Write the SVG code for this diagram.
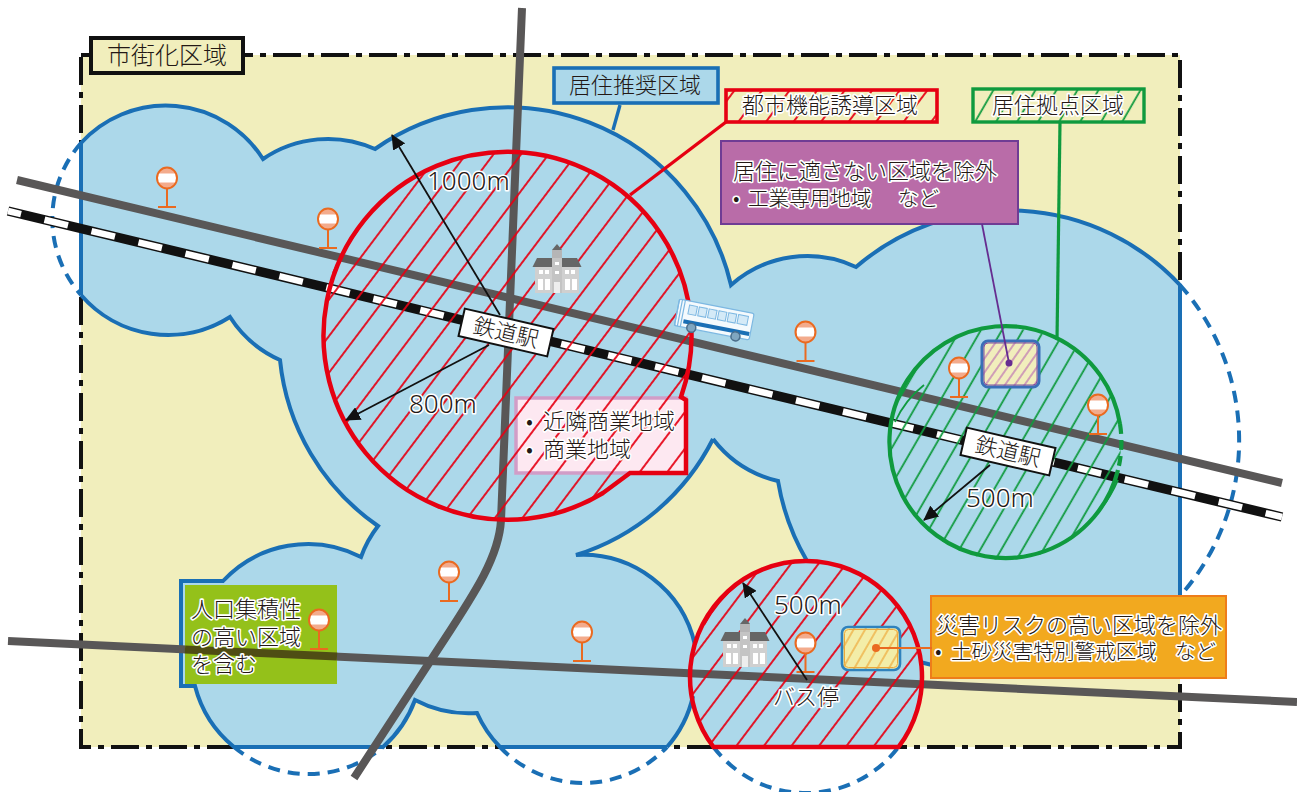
<svg xmlns="http://www.w3.org/2000/svg" width="1297" height="792" viewBox="0 0 1297 792">
<style>
text{font-family:"Noto Sans CJK JP","Noto Sans",sans-serif;font-size:22px;font-weight:300;fill:#231815}
.h{stroke:#fff;stroke-width:3.2px;stroke-linejoin:round;paint-order:stroke}
.m{font-family:"Noto Sans","Noto Sans CJK JP",sans-serif;font-size:26px}
.s{font-size:20.6px}
.road{fill:none;stroke:#595757;stroke-width:8}
.blue{stroke:#1a6fb5;stroke-width:4;fill:none}
.dash{stroke-dasharray:12 8}
.arrow{stroke:#111;stroke-width:1.8;fill:none;marker-end:url(#ah)}
.thin-r{fill:none;stroke:#e60012;stroke-width:1.8}
.thin-g{fill:none;stroke:#0f9a3e;stroke-width:1.8}
</style>
<defs>
<marker id="ah" markerUnits="userSpaceOnUse" markerWidth="16" markerHeight="14" refX="14" refY="7" orient="auto"><path d="M0,0L15,7L0,14Z" fill="#111"/></marker>
<pattern id="hr" width="22" height="22" patternUnits="userSpaceOnUse" patternTransform="rotate(-53)"><line x1="0" y1="3" x2="22" y2="3" stroke="#e60012" stroke-width="1.800"/></pattern>
<pattern id="hg" width="18.200" height="18.200" patternUnits="userSpaceOnUse" patternTransform="rotate(-60)"><line x1="0" y1="13.600" x2="18.200" y2="13.600" stroke="#0f9a3e" stroke-width="1.800"/></pattern>
<pattern id="hp" width="8" height="8" patternUnits="userSpaceOnUse" patternTransform="rotate(-55)"><line x1="0" y1="4" x2="8" y2="4" stroke="#c583b4" stroke-width="1.500"/></pattern>
<pattern id="ho" width="10" height="10" patternUnits="userSpaceOnUse" patternTransform="rotate(-60)"><line x1="0" y1="4" x2="10" y2="4" stroke="#eea83a" stroke-width="1.300"/></pattern>
<g id="stop">
<ellipse cx="0" cy="0" rx="10" ry="10.500" fill="#f3ab8c"/>
<rect x="-9" y="-4.500" width="18" height="9" fill="#fff"/>
<ellipse cx="0" cy="0" rx="10" ry="10.500" fill="none" stroke="#ea6a20" stroke-width="2"/>
<path d="M0,10.500V29M-9,29H9" fill="none" stroke="#ea6a20" stroke-width="2"/>
</g>
<g id="school">
<path d="M0,0L5,6H-5Z" fill="#666"/>
<path d="M-5,6H5V14H-5Z" fill="#b5b5b6"/>
<path d="M-20,14H20L24.500,23H-24.500Z" fill="#666"/>
<rect x="-22" y="23" width="44" height="26" fill="#d0d0d0"/>
<rect x="-5" y="14" width="10" height="35" fill="#c4c4c4"/>
<rect x="-3" y="38" width="6" height="11" fill="#eee"/>
<path d="M-18,26h4v4h-4zM-12,26h4v4h-4zM8,26h4v4h-4zM14,26h4v4h-4zM-19,35h5v11h-5zM-12,35h5v11h-5zM8,35h5v11h-5zM15,35h5v11h-5zM-2,18h4v3h-4zM-2,27h4v3h-4z" fill="#fff"/>
</g>
</defs>

<g id="urbanization-area">
<rect x="81" y="55" width="1099" height="692" fill="#f1eebc"/>
<rect x="81" y="55" width="1099" height="692" fill="none" stroke="#111" stroke-width="4" stroke-dasharray="28 7 6 7"/>
</g>

<g id="residential-area">
<path fill="#acd8ea" fill-rule="evenodd" d="M81,143A115,115 0 0 1 263,159A115,115 0 0 1 375,149A230,230 0 0 1 731,285A115,115 0 0 1 856,267A234,234 0 0 1 1180,285L1180,596A234,234 0 0 1 920,662A116,116 0 0 1 898.500,747L713.500,747A116,116 0 0 1 693,696A115,115 0 0 1 667,747L500,747A115,115 0 0 1 477,713A115,115 0 0 1 415,700A116,116 0 0 1 383,747L234,747A116,116 0 0 1 195,686L181,686L181,581L223,581A116,116 0 0 1 361,557A112,112 0 0 1 378,526A230,230 0 0 1 280,360A115,115 0 0 1 230,317A115,115 0 0 1 81,295ZM713,439A115,115 0 0 0 778,481A234,234 0 0 0 807,561A116,116 0 0 0 695,645A115,115 0 0 0 576,555A230,230 0 0 0 713,439Z"/>
<path class="blue" d="M81,295V143A115,115 0 0 1 263,159A115,115 0 0 1 375,149A230,230 0 0 1 731,285A115,115 0 0 1 856,267A234,234 0 0 1 1180,285L1180,596"/>
<path class="blue" d="M932,665A234,234 0 0 1 920,662"/>
<path class="blue" d="M667,747L500,747A115,115 0 0 1 477,713A115,115 0 0 1 415,700A116,116 0 0 1 383,747L234,747A116,116 0 0 1 195,686L181,686L181,581L223,581A116,116 0 0 1 361,557A112,112 0 0 1 378,526A230,230 0 0 1 280,360A115,115 0 0 1 230,317A115,115 0 0 1 81,295"/>
<path class="blue" d="M667,747A115,115 0 0 0 693,696"/>
<path class="blue" d="M713,439A115,115 0 0 0 778,481A234,234 0 0 0 807,561M695,645A115,115 0 0 0 576,555A230,230 0 0 0 713,439"/>
<path class="blue dash" d="M81,143A115,115 0 0 0 81,295M234,747A116,116 0 0 0 383,747M500,747A115,115 0 0 0 667,747M713.500,747A116,116 0 0 0 898.500,747M1180,285A234,234 0 0 1 1180,596"/>
</g>

<g id="connectors">
<path class="road" d="M17,180L1282,483"/>
<path class="road" d="M522,8L501,520C499,560 470,600 431,660L354,778"/>
<path class="road" d="M8,641L1297,702"/>
<path d="M8,211L1282,517" fill="none" stroke="#111" stroke-width="9.500"/>
<path d="M8,211L1282,517" fill="none" stroke="#fff" stroke-width="6.500" stroke-dasharray="24.150 24.150" stroke-dashoffset="10.750"/>
<path d="M726,122L630,195" fill="none" stroke="#e60012" stroke-width="3.400"/>
<path d="M620,105L613,130" fill="none" stroke="#1a6fb5" stroke-width="3.400"/>
<path d="M1060,122L1057,340" fill="none" stroke="#0f9a3e" stroke-width="3.200"/>
</g>

<g id="city-function-area-a">
<rect x="516" y="398" width="170" height="75" fill="#fde8f1" stroke="#d19dc7" stroke-width="3.500"/>
<path fill="url(#hr)" d="M323,336A184,184 0 1 1 691,336A184,184 0 1 1 323,336ZM516,398H686V473H516Z"/>
<path class="thin-r" d="M333,273Q352,232 380,203"/>
<path fill="none" stroke="#e60012" stroke-width="4.500" d="M630,473L603,493A184,184 0 1 1 681,397L686,400V473Z"/>
</g>

<g id="city-function-area-b">
<path fill="url(#hr)" d="M713.500,747A116,116 0 1 1 898.500,747Z"/>
<path class="thin-r" d="M704,625Q718,600 739,583"/>
<path fill="none" stroke="#e60012" stroke-width="4.500" d="M713.500,747A116,116 0 1 1 898.500,747Z"/>
</g>

<g id="residential-hub-area">
<circle cx="1005" cy="444" r="116" fill="url(#hg)"/>
<path class="thin-g" d="M895,422Q905,400 924,385M1118,480Q1108,504 1089,522"/>
<path fill="none" stroke="#0f9a3e" stroke-width="4.200" d="M1118,470A116,116 0 1 1 1120,424"/>
<path fill="none" stroke="#0f9a3e" stroke-width="4.200" stroke-dasharray="10 6" d="M1120,424A116,116 0 0 1 1118,470"/>
</g>

<g id="excluded-industrial">
<rect x="982" y="341" width="57" height="46" rx="6" fill="#f1eebc"/>
<rect x="982" y="341" width="57" height="46" rx="6" fill="url(#hp)"/>
<rect x="982" y="341" width="57" height="46" rx="6" fill="none" stroke="#3a6fb7" stroke-width="3"/>
<rect x="984" y="343" width="53" height="42" rx="4" fill="none" stroke="#7d4fa0" stroke-width="1"/>
</g>
<g id="excluded-hazard">
<rect x="842" y="627" width="58" height="43" rx="6" fill="#f3eda8"/>
<rect x="842" y="627" width="58" height="43" rx="6" fill="url(#ho)"/>
<rect x="842" y="627" width="58" height="43" rx="6" fill="none" stroke="#2f82bd" stroke-width="2.600"/>
<rect x="844.500" y="629.500" width="53" height="38" rx="4" fill="none" stroke="#eea83a" stroke-width="1"/>
</g>

<g id="stops">
<use href="#stop" x="167" y="178"/>
<use href="#stop" x="328" y="219"/>
<use href="#stop" x="805.500" y="332"/>
<use href="#stop" x="959" y="368"/>
<use href="#stop" x="1098" y="405"/>
<use href="#stop" x="449" y="572"/>
<use href="#stop" x="582" y="632"/>
<use href="#stop" x="805.500" y="643"/>
</g>

<g id="schools">
<use href="#school" x="557" y="244"/>
<use href="#school" x="745" y="618"/>
</g>

<g id="bus" transform="translate(714,321) rotate(11)">
<rect x="-38" y="-15" width="76" height="27" rx="2" fill="#f4fafd" stroke="#7db8e2" stroke-width="1.200"/>
<path d="M-38,-15V12M-35,-15V12M-32,-15V12" stroke="#7db8e2" stroke-width="1.200" fill="none"/>
<path d="M-27,-11h8v9h-8zM-17,-11h8v9h-8zM-7,-11h8v9h-8zM3,-11h8v9h-8zM13,-11h8v9h-8zM23,-11h10v9h-10z" fill="#d4eaf7" stroke="#7db8e2" stroke-width="1"/>
<rect x="-30" y="4" width="67" height="4" fill="#1a6fb5"/>
<circle cx="-21" cy="11" r="4.500" fill="#7fa6c0" stroke="#4a6d8a" stroke-width="1.500"/>
<circle cx="24" cy="11" r="4.500" fill="#7fa6c0" stroke="#4a6d8a" stroke-width="1.500"/>
</g>

<g id="arrows">
<path class="arrow" d="M500,315L392,135"/>
<path class="arrow" d="M489,345L346,420"/>
<path class="arrow" d="M990,465L924,520"/>
<path class="arrow" d="M807,680L743,583"/>
</g>

<g id="station-1">
<g transform="translate(506,332.500) rotate(13)">
<rect x="-45.500" y="-14" width="91" height="28" fill="#fff" stroke="#111" stroke-width="2"/>
<text x="0" y="8" text-anchor="middle">鉄道駅</text>
</g>
</g>
<g id="station-2">
<g transform="translate(1008,451.500) rotate(13)">
<rect x="-45.500" y="-14" width="91" height="28" fill="#fff" stroke="#111" stroke-width="2"/>
<text x="0" y="8" text-anchor="middle">鉄道駅</text>
</g>
</g>

<g id="label-urbanization">
<rect x="91" y="38" width="152" height="35" fill="#f1eebc" stroke="#111" stroke-width="4"/>
<text x="107" y="64" style="font-size:24px">市街化区域</text>
</g>
<g id="label-residential">
<rect x="554" y="68" width="164" height="35" fill="#acd8ea" stroke="#1a6fb5" stroke-width="3.600"/>
<text x="569" y="93">居住推奨区域</text>
</g>
<g id="label-city-function">
<rect x="726" y="90" width="211" height="32" fill="#f1eebc"/>
<rect x="726" y="90" width="211" height="32" fill="url(#hr)" stroke="#e60012" stroke-width="3.600"/>
<text class="h" x="742" y="113">都市機能誘導区域</text>
</g>
<g id="label-hub">
<rect x="973" y="89" width="171" height="33" fill="#f1eebc"/>
<rect x="973" y="89" width="171" height="33" fill="url(#hg)" stroke="#0f9a3e" stroke-width="3.400"/>
<text class="h" x="992" y="113">居住拠点区域</text>
</g>

<g id="note-commercial">
<text class="h" x="526" y="429">•</text><text class="h" x="543" y="429">近隣商業地域</text>
<text class="h" x="526" y="457">•</text><text class="h" x="543" y="457">商業地域</text>
</g>

<g id="note-population">
<rect x="185" y="585" width="152" height="99" fill="#94c11a"/>
<line x1="185" y1="649.400" x2="337" y2="656.600" stroke="#4f4d14" stroke-width="8"/>
<text class="h" x="191" y="617">人口集積性</text>
<text class="h" x="191" y="645">の高い区域</text>
<text class="h" x="191" y="672">を含む</text>
<use href="#stop" x="319" y="620"/>
</g>

<g id="note-industrial">
<rect x="721" y="141" width="297" height="83" fill="#b96ca8" stroke="#6f3c94" stroke-width="2"/>
<path d="M982,224L1009,363" fill="none" stroke="#662d91" stroke-width="1.800"/>
<circle cx="1009" cy="363" r="3.500" fill="#662d91"/>
<text class="h" x="733" y="179">居住に適さない区域を除外</text>
<text class="h s" x="733" y="206">•</text>
<text class="h s" x="748" y="206">工業専用地域</text>
<text class="h s" x="898" y="206">など</text>
</g>

<g id="note-hazard">
<rect x="931" y="596" width="295" height="82" fill="#f2a91f" stroke="#ee7d1a" stroke-width="2"/>
<path d="M876,648H932" fill="none" stroke="#ea6a20" stroke-width="2"/>
<circle cx="876" cy="648" r="4" fill="#ea6a20"/>
<text class="h" x="936" y="633">災害リスクの高い区域を除外</text>
<text class="h s" x="935" y="659">•</text>
<text class="h s" x="951" y="659">土砂災害特別警戒区域</text>
<text class="h s" x="1175" y="659">など</text>
</g>

<g id="distance-labels">
<text class="h m" x="427" y="190">1000m</text>
<text class="h m" x="409" y="413">800m</text>
<text class="h m" x="966" y="507">500m</text>
<text class="h m" x="774" y="614">500m</text>
<text class="h" x="773" y="705">バス停</text>
</g>
</svg>
